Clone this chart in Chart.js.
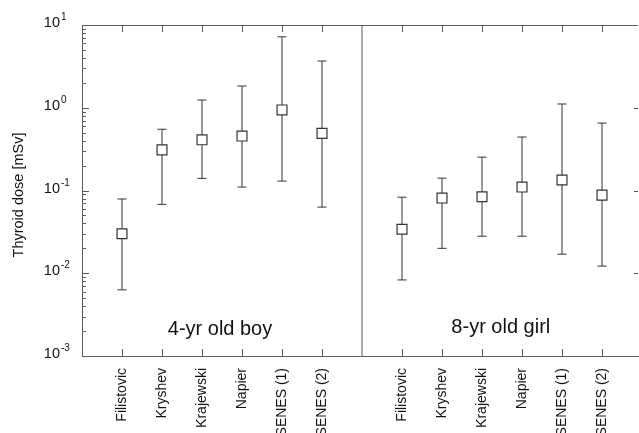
<!DOCTYPE html>
<html>
<head>
<meta charset="utf-8">
<script src="https://cdn.jsdelivr.net/npm/chart.js@4.4.1/dist/chart.umd.min.js"></script>
<style>
  html, body { margin: 0; padding: 0; background: #fff; }
  #wrap { width: 639px; height: 433px; position: relative; }
</style>
</head>
<body>
<div id="wrap"><canvas id="doseChart"></canvas></div>
<script>
// model names (same order in both panels)
const categories = ["Filistovic", "Kryshev", "Krajewski", "Napier", "SENES (1)", "SENES (2)"];

// 4-yr old boy, thyroid dose in mSv
const boyDose = [0.030, 0.31, 0.41, 0.455, 0.94, 0.49];
const boyLow  = [0.0063, 0.068, 0.14, 0.11, 0.13, 0.063];
const boyHigh = [0.079, 0.55, 1.24, 1.83, 7.2, 3.67];

// 8-yr old girl
const girlDose = [0.034, 0.081, 0.084, 0.11, 0.134, 0.088];
const girlLow  = [0.0083, 0.020, 0.028, 0.028, 0.017, 0.0122];
const girlHigh = [0.083, 0.141, 0.253, 0.443, 1.11, 0.653];

const panelTitles = ["4-yr old boy", "8-yr old girl"];
const yDecades = [-3, -2, -1, 0, 1];

// slot positions on the x axis: boy 1..6, separator 7, girl 8..13
const boyX = categories.map((c, i) => i + 1);
const girlX = categories.map((c, i) => i + 8);
const sepX = 7;
const allX = boyX.concat(girlX);

function bars(xs, lo, hi) {
    const pts = [];
    xs.forEach((x, i) => {
        pts.push({ x: x, y: lo[i] });
        pts.push({ x: x, y: hi[i] });
        pts.push({ x: x, y: null });
    });
    return pts;
}

const whiskers = bars(boyX, boyLow, boyHigh).concat(bars(girlX, girlLow, girlHigh));
const centers = boyX.map((x, i) => ({ x: x, y: boyDose[i] }))
    .concat(girlX.map((x, i) => ({ x: x, y: girlDose[i] })));

const AXIS = "#5a5a5a";
const INK = "#333";

function px(v) { return Math.round(v) + 0.5; }

const framePlugin = {
    id: "frame",
    afterDraw(chart) {
        const ctx = chart.ctx;
        const a = chart.chartArea;
        const xs = chart.scales.x;
        const ys = chart.scales.y;
        ctx.save();
        ctx.strokeStyle = AXIS;
        ctx.lineWidth = 1;
        ctx.beginPath();
        // top frame line
        ctx.moveTo(a.left, px(a.top));
        ctx.lineTo(a.right, px(a.top));
        // category ticks, top and bottom, pointing inward
        allX.forEach(v => {
            const x = px(xs.getPixelForValue(v));
            ctx.moveTo(x, a.top);
            ctx.lineTo(x, a.top + 7);
            ctx.moveTo(x, a.bottom);
            ctx.lineTo(x, a.bottom - 7);
        });
        // log ticks on the left, decade ticks on the right
        yDecades.forEach(d => {
            for (let m = 1; m <= 9; m++) {
                const v = m * Math.pow(10, d);
                if (v > 10.0001) break;
                const y = px(ys.getPixelForValue(v));
                ctx.moveTo(a.left, y);
                ctx.lineTo(a.left + (m === 1 ? 7 : 4), y);
                if (m === 1) {
                    ctx.moveTo(a.right, y);
                    ctx.lineTo(a.right - 4, y);
                }
            }
        });
        ctx.stroke();

        // y tick labels 10^n
        ctx.fillStyle = "#111";
        yDecades.forEach(d => {
            const y = ys.getPixelForValue(Math.pow(10, d));
            ctx.font = "14.5px 'Liberation Sans', Arial, sans-serif";
            ctx.textAlign = "right";
            ctx.textBaseline = "middle";
            ctx.fillText("10", 60, y - 2);
            ctx.font = "10px 'Liberation Sans', Arial, sans-serif";
            ctx.textAlign = "left";
            ctx.textBaseline = "alphabetic";
            ctx.fillText(String(d), 61, y - 5);
        });

        // y axis title
        ctx.save();
        ctx.translate(19, 195);
        ctx.rotate(-Math.PI / 2);
        ctx.font = "14.5px 'Liberation Sans', Arial, sans-serif";
        ctx.textAlign = "center";
        ctx.textBaseline = "middle";
        ctx.fillText("Thyroid dose [mSv]", 0, 0);
        ctx.restore();

        // panel titles
        ctx.font = "20px 'Liberation Sans', Arial, sans-serif";
        ctx.textAlign = "center";
        ctx.textBaseline = "alphabetic";
        ctx.fillText(panelTitles[0], xs.getPixelForValue(3.45), 335);
        ctx.fillText(panelTitles[1], xs.getPixelForValue(10.47), 333);
        ctx.restore();
    }
};

const ctx = document.getElementById("doseChart").getContext("2d");
new Chart(ctx, {
    type: "scatter",
    data: {
        datasets: [
            {
                label: "separator",
                data: [{ x: sepX, y: 0.001 }, { x: sepX, y: 10 }],
                showLine: true,
                borderColor: AXIS,
                borderWidth: 1,
                pointRadius: 0,
                order: 3
            },
            {
                label: "range",
                data: whiskers,
                showLine: true,
                spanGaps: false,
                borderColor: INK,
                borderWidth: 1,
                pointStyle: "line",
                pointRadius: 4.5,
                pointBorderColor: INK,
                pointBorderWidth: 1,
                order: 2
            },
            {
                label: "dose",
                data: centers,
                pointStyle: "rect",
                pointRadius: 7,
                pointBackgroundColor: "#fff",
                pointBorderColor: INK,
                pointBorderWidth: 1.2,
                order: 1
            }
        ]
    },
    options: {
        responsive: true,
        maintainAspectRatio: false,
        animation: false,
        layout: { autoPadding: false, padding: { top: 25, right: 1, left: 0, bottom: 0 } },
        plugins: {
            legend: { display: false },
            tooltip: { enabled: false }
        },
        scales: {
            x: {
                type: "linear",
                min: 0,
                max: 13.9,
                grid: { display: false },
                border: { color: AXIS, width: 1 },
                afterBuildTicks: scale => {
                    scale.ticks = allX.map(v => ({ value: v }));
                },
                afterFit: scale => {
                    scale.height = 77;
                    scale.paddingLeft = 0;
                    scale.paddingRight = 0;
                },
                ticks: {
                    autoSkip: false,
                    minRotation: 90,
                    maxRotation: 90,
                    padding: 4,
                    color: "#111",
                    font: { family: "'Liberation Sans', Arial, sans-serif", size: 14 },
                    callback: value => categories[(value < sepX ? value - 1 : value - 8)]
                }
            },
            y: {
                type: "logarithmic",
                min: 0.001,
                max: 10,
                grid: { display: false },
                border: { color: AXIS, width: 1 },
                ticks: { display: false },
                afterFit: scale => {
                    scale.width = 82;
                    scale.paddingTop = 0;
                    scale.paddingBottom = 0;
                }
            }
        }
    },
    plugins: [framePlugin]
});
</script>
</body>
</html>
